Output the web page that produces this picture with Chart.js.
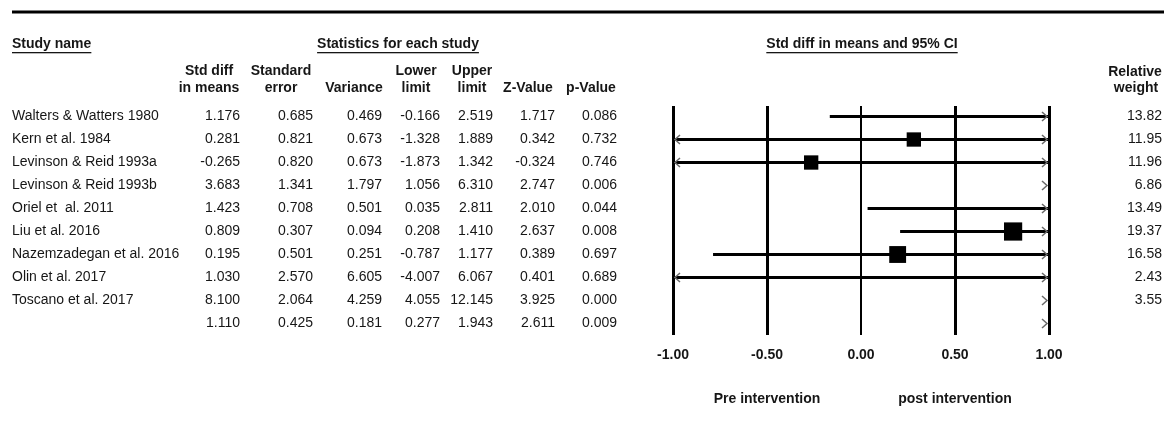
<!DOCTYPE html>
<html>
<head>
<meta charset="utf-8">
<title>Forest plot</title>
<script src="https://cdn.jsdelivr.net/npm/chart.js@4/dist/chart.umd.min.js"></script>
<style>
  html, body { margin: 0; padding: 0; background: #fff; }
  #wrap { width: 1164px; height: 443px; position: relative; }
</style>
</head>
<body>
<div id="wrap"><canvas id="forest"></canvas></div>
<script>
// study rows
const studies = ['Walters & Watters 1980', 'Kern et al. 1984', 'Levinson & Reid 1993a', 'Levinson & Reid 1993b',
  'Oriel et  al. 2011', 'Liu et al. 2016', 'Nazemzadegan et al. 2016', 'Olin et al. 2017', 'Toscano et al. 2017'];
const stdDiff  = [1.176, 0.281, -0.265, 3.683, 1.423, 0.809, 0.195, 1.030, 8.100];
const stdErr   = [0.685, 0.821, 0.820, 1.341, 0.708, 0.307, 0.501, 2.570, 2.064];
const variance = [0.469, 0.673, 0.673, 1.797, 0.501, 0.094, 0.251, 6.605, 4.259];
const lower    = [-0.166, -1.328, -1.873, 1.056, 0.035, 0.208, -0.787, -4.007, 4.055];
const upper    = [2.519, 1.889, 1.342, 6.310, 2.811, 1.410, 1.177, 6.067, 12.145];
const zValue   = [1.717, 0.342, -0.324, 2.747, 2.010, 2.637, 0.389, 0.401, 3.925];
const pValue   = [0.086, 0.732, 0.746, 0.006, 0.044, 0.008, 0.697, 0.689, 0.000];
const relWeight = [13.82, 11.95, 11.96, 6.86, 13.49, 19.37, 16.58, 2.43, 3.55];

// pooled (summary) row
const summary = [1.110, 0.425, 0.181, 0.277, 1.943, 2.611, 0.009];

// axis
const xTicks = [-1, -0.5, 0, 0.5, 1];
const xLabels = ['-1.00', '-0.50', '0.00', '0.50', '1.00'];
const favourLabels = ['Pre intervention', 'post intervention'];

const FONT = '"Liberation Sans", Arial, Helvetica, sans-serif';
const INK = '#161616';
const nRows = studies.length + 1;

// table columns: header lines, header centre x, number right edge x
const columns = [
  { head: ['Std diff', 'in means'], cx: 209, rx: 240 },
  { head: ['Standard', 'error'], cx: 281, rx: 313 },
  { head: ['', 'Variance'], cx: 354, rx: 382 },
  { head: ['Lower', 'limit'], cx: 416, rx: 440 },
  { head: ['Upper', 'limit'], cx: 472, rx: 493 },
  { head: ['', 'Z-Value'], cx: 528, rx: 555 },
  { head: ['', 'p-Value'], cx: 591, rx: 617 }
];
const colValues = [stdDiff, stdErr, variance, lower, upper, zValue, pValue];

// line datasets, one per study
const ciSets = studies.map((s, i) => ({
  type: 'line',
  label: s,
  data: [{ x: lower[i], y: i }, { x: upper[i], y: i }],
  borderColor: '#000',
  borderWidth: 3,
  pointRadius: 0,
  fill: false,
  order: 1
}));

const squareSet = {
  type: 'scatter',
  label: 'effect',
  data: studies.map((s, i) => ({ x: stdDiff[i], y: i })),
  pointStyle: 'rect',
  pointRadius: ctx => 4.14 * Math.sqrt(relWeight[ctx.dataIndex]) / (2 * Math.SQRT1_2),
  pointHoverRadius: 0,
  backgroundColor: '#000',
  borderWidth: 0,
  clip: 0,
  order: 0
};

function underlined(ctx, text, x, y, align) {
  ctx.textAlign = align;
  ctx.fillText(text, x, y);
  const w = ctx.measureText(text).width;
  const x0 = align === 'center' ? x - w / 2 : x;
  ctx.fillRect(x0, y + 8, w, 1.3);
}

const tablePlugin = {
  id: 'table',
  afterDraw(chart) {
    const ctx = chart.ctx;
    const xs = chart.scales.x, ys = chart.scales.y;
    ctx.save();

    // top rule
    ctx.fillStyle = '#000';
    ctx.fillRect(12, 10.5, 1152, 3);

    ctx.fillStyle = INK;
    ctx.textBaseline = 'middle';
    ctx.font = 'bold 14px ' + FONT;
    underlined(ctx, 'Study name', 12, 44, 'left');
    underlined(ctx, 'Statistics for each study', 398, 44, 'center');
    underlined(ctx, 'Std diff in means and 95% CI', 862, 44, 'center');

    ctx.textAlign = 'center';
    columns.forEach(c => {
      ctx.fillText(c.head[0], c.cx, 71);
      ctx.fillText(c.head[1], c.cx, 88);
    });
    ctx.fillText('Relative', 1135, 72);
    ctx.fillText('weight', 1136, 88);

    // favour labels below the axis
    ctx.fillText(favourLabels[0], xs.getPixelForValue(-0.5), 399);
    ctx.fillText(favourLabels[1], xs.getPixelForValue(0.5), 399);

    // body
    ctx.font = '14px ' + FONT;
    studies.forEach((s, i) => {
      const y = ys.getPixelForValue(i);
      ctx.textAlign = 'left';
      ctx.fillText(s, 12, y);
      ctx.textAlign = 'right';
      colValues.forEach((arr, j) => ctx.fillText(arr[i].toFixed(3), columns[j].rx, y));
      ctx.fillText(relWeight[i].toFixed(2), 1162, y);
    });
    const ySum = ys.getPixelForValue(studies.length);
    ctx.textAlign = 'right';
    summary.forEach((v, j) => ctx.fillText(v.toFixed(3), columns[j].rx, ySum));

    // arrows where the interval runs past the axis
    const lo = [...lower, summary[3]], hi = [...upper, summary[4]];
    const xl = xs.getPixelForValue(xs.min), xr = xs.getPixelForValue(xs.max);
    ctx.strokeStyle = '#6a6a6a';
    ctx.lineWidth = 1.5;
    for (let i = 0; i < nRows; i++) {
      const y = ys.getPixelForValue(i);
      if (hi[i] > xs.max) {
        ctx.beginPath();
        ctx.moveTo(xr - 7, y - 4.5); ctx.lineTo(xr - 2, y); ctx.lineTo(xr - 7, y + 4.5);
        ctx.stroke();
      }
      if (lo[i] < xs.min) {
        ctx.beginPath();
        ctx.moveTo(xl + 7, y - 4.5); ctx.lineTo(xl + 2, y); ctx.lineTo(xl + 7, y + 4.5);
        ctx.stroke();
      }
    }
    ctx.restore();
  }
};

new Chart(document.getElementById('forest'), {
  data: { datasets: [squareSet, ...ciSets] },
  options: {
    responsive: true,
    maintainAspectRatio: false,
    animation: false,
    events: [],
    layout: { padding: { left: 673, right: 115, top: 106, bottom: 78 } },
    plugins: { legend: { display: false }, tooltip: { enabled: false } },
    scales: {
      x: {
        type: 'linear',
        min: -1, max: 1,
        afterBuildTicks: s => { s.ticks = xTicks.map(v => ({ value: v })); },
        afterFit: s => { s.height = 30; },
        ticks: {
          padding: 12,
          color: INK,
          font: { family: FONT, size: 14, weight: 'bold' },
          callback: (v) => xLabels[xTicks.indexOf(v)]
        },
        grid: {
          color: '#000',
          lineWidth: c => (c.tick && c.tick.value === 0 ? 2 : 3),
          drawTicks: false
        },
        border: { display: false }
      },
      y: {
        type: 'linear',
        display: false,
        reverse: true,
        min: -0.457, max: nRows - 0.5
      }
    }
  },
  plugins: [tablePlugin]
});
</script>
</body>
</html>
